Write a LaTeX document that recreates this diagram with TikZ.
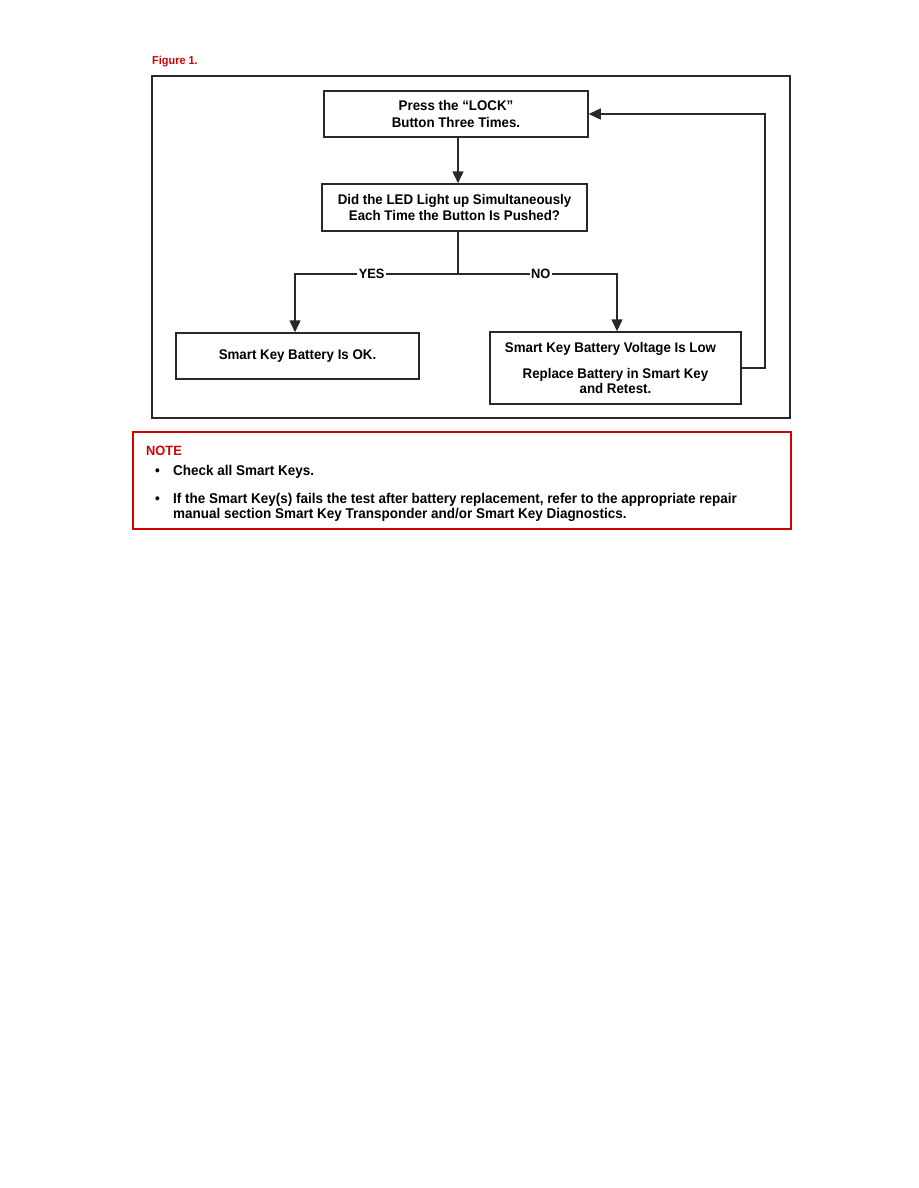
\documentclass[tikz,border=0pt]{standalone}
\usepackage{fontspec}
\setmainfont{Liberation Sans}[FakeStretch=0.95]
\usetikzlibrary{arrows.meta, positioning, calc}
\definecolor{cRed}{RGB}{210,0,0}
\definecolor{cLine}{RGB}{40,40,40}
\tikzset{
	stepbox/.style={rectangle, draw=cLine, line width=1.5pt, align=center, inner sep=0pt, font=\fontsize{14}{16.5}\selectfont\bfseries},
	sig/.style={-{Triangle[length=12pt, width=11pt]}, line width=1.5pt, draw=cLine},
	lbl/.style={fill=white, inner sep=1.5pt, font=\fontsize{13.5}{14}\selectfont\bfseries},
	notetxt/.style={anchor=base west, inner sep=0pt, font=\fontsize{14.2}{15}\selectfont\bfseries},
}
\begin{document}
\begin{tikzpicture}[x=1pt, y=-1pt]
	\useasboundingbox[fill=white] (0,0) rectangle (918,1188);
	% caption and frame
	\node[anchor=base west, inner sep=0pt, text=cRed, font=\fontsize{11.5}{12}\selectfont\bfseries] (fig) at (152,65) {Figure 1.};
	\draw[line width=1.5pt, cLine] (152,76) rectangle (790,418);
	% flow boxes
	\node[stepbox, minimum width=264pt, minimum height=46pt] (press) at (456,114) {Press the “LOCK”\\Button Three Times.};
	\node[stepbox, minimum width=265pt, minimum height=47pt] (led) at (454.5,207.5) {Did the LED Light up Simultaneously\\Each Time the Button Is Pushed?};
	\node[stepbox, minimum width=243pt, minimum height=46pt] (ok) at (297.5,356) {Smart Key Battery Is OK.};
	\node[stepbox, minimum width=251pt, minimum height=72pt, font=\fontsize{14}{15.5}\selectfont\bfseries] (low) at (615.5,368) {\hspace*{-10pt}Smart Key Battery Voltage Is Low\\[10pt]Replace Battery in Smart Key\\and Retest.};
	\coordinate (split) at (458,274);
	% connectors
	\draw[sig] (press.south -| split) -- (led.north -| split);
	\draw[line width=1.5pt, cLine] (led.south -| split) -- (split);
	\draw[sig] (split) -- node[lbl, pos=0.53] {YES} (split -| 295,0) -- (295,0 |- ok.north);
	\draw[sig] (split) -- node[lbl, pos=0.52] {NO} (split -| 617,0) -- (617,0 |- low.north);
	\draw[sig] (low.east) -- ++(23,0) |- (press.east);
	% note
	\node[rectangle, draw=cRed, line width=1.6pt, minimum width=658pt, minimum height=97pt, inner sep=0pt] (note) at (462,480.5) {};
	\node[anchor=base west, inner sep=0pt, text=cRed, font=\fontsize{13.5}{15}\selectfont\bfseries] (notehd) at (146,455) {NOTE};
	\node[notetxt] (b1) at (155,475) {•};
	\node[notetxt] (t1) at (173,475) {Check all Smart Keys.};
	\node[notetxt] (b2) at (155,503) {•};
	\node[notetxt, align=left] (t2) at (173,518) {If the Smart Key(s) fails the test after battery replacement, refer to the appropriate repair\\manual section Smart Key Transponder and/or Smart Key Diagnostics.};
\end{tikzpicture}
\end{document}
